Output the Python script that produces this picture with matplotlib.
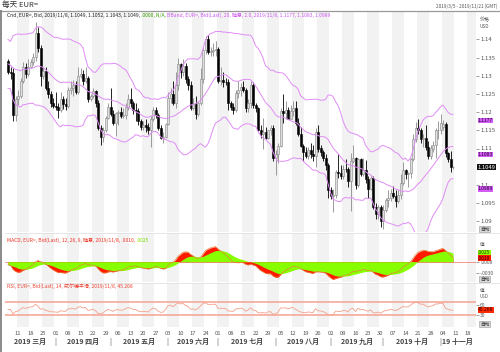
import numpy as np
import pandas as pd
import matplotlib
matplotlib.use('Agg')
import matplotlib.pyplot as plt
from matplotlib import transforms

plt.rcParams['font.family'] = ['Noto Sans CJK SC', 'DejaVu Sans']

# ---------------- data ----------------
# closes before the visible range (2019-01-02 .. 2019-03-04), only used to warm up the indicators
warmup_closes = [1.1345, 1.1395, 1.1395, 1.1475, 1.1440, 1.1545, 1.1500, 1.1470, 1.1470, 1.1410,
                 1.1395, 1.1390, 1.1365, 1.1365, 1.1360, 1.1385, 1.1305, 1.1410, 1.1430, 1.1430,
                 1.1480, 1.1450, 1.1455, 1.1435, 1.1405, 1.1375, 1.1340, 1.1325, 1.1275, 1.1325,
                 1.1260, 1.1295, 1.1295, 1.1310, 1.1340, 1.1340, 1.1335, 1.1330, 1.1360, 1.1390,
                 1.1370, 1.1370, 1.1365, 1.1340]

# daily bars 2019-03-05 .. 2019-11-08
opens = [
    # Mar
    1.1340, 1.1310, 1.1308, 1.1192, 1.1235, 1.1245, 1.1285, 1.1325, 1.1305, 1.1325, 1.1338, 1.1352, 1.1418, 1.1375, 1.1298, 1.1312, 1.1265, 1.1250, 1.1225,
    # Apr
    1.1218, 1.1215, 1.1205, 1.1235, 1.1222, 1.1217, 1.1262, 1.1265, 1.1275, 1.1255, 1.1300, 1.1305, 1.1285, 1.1295, 1.1235, 1.1245, 1.1258, 1.1225, 1.1155, 1.1132, 1.1150, 1.1185,
    # May
    1.1215, 1.1195, 1.1170, 1.1198, 1.1200, 1.1190, 1.1192, 1.1215, 1.1235, 1.1225, 1.1205, 1.1203, 1.1175, 1.1158, 1.1165, 1.1160, 1.1152, 1.1180, 1.1205, 1.1192, 1.1155, 1.1130, 1.1132,
    # Jun
    1.1168, 1.1240, 1.1250, 1.1225, 1.1275, 1.1333, 1.1310, 1.1327, 1.1290, 1.1275, 1.1210, 1.1222, 1.1195, 1.1225, 1.1290, 1.1370, 1.1400, 1.1365, 1.1368, 1.1370,
    # Jul
    1.1372, 1.1285, 1.1288, 1.1283, 1.1282, 1.1225, 1.1215, 1.1207, 1.1252, 1.1260, 1.1270, 1.1260, 1.1210, 1.1225, 1.1275, 1.1220, 1.1210, 1.1150, 1.1140, 1.1145, 1.1130, 1.1150, 1.1155,
    # Aug
    1.1075, 1.1085, 1.1108, 1.1202, 1.1198, 1.1205, 1.1182, 1.1202, 1.1212, 1.1170, 1.1140, 1.1108, 1.1090, 1.1080, 1.1095, 1.1085, 1.1080, 1.1145, 1.1100, 1.1090, 1.1075, 1.1055,
    # Sep
    1.0985, 1.0970, 1.0972, 1.1035, 1.1032, 1.1025, 1.1045, 1.1043, 1.1010, 1.1065, 1.1075, 1.1000, 1.1070, 1.1030, 1.1040, 1.1015, 1.0990, 1.1020, 1.0940, 1.0920, 1.0940,
    # Oct
    1.0900, 1.0932, 1.0958, 1.0965, 1.0978, 1.0970, 1.0955, 1.0972, 1.1005, 1.1040, 1.1030, 1.1032, 1.1070, 1.1125, 1.1155, 1.1150, 1.1125, 1.1130, 1.1105, 1.1080, 1.1100, 1.1110, 1.1150,
    # Nov
    1.1152, 1.1160, 1.1168, 1.1088, 1.1070, 1.1049,
]
highs = [
    1.1345, 1.1325, 1.1320, 1.1245, 1.1260, 1.1295, 1.1338, 1.1335, 1.1345, 1.1345, 1.1362, 1.1448, 1.1435, 1.1385, 1.1325, 1.1325, 1.1285, 1.1258, 1.1238,
    1.1255, 1.1225, 1.1255, 1.1245, 1.1240, 1.1268, 1.1285, 1.1288, 1.1285, 1.1324, 1.1320, 1.1315, 1.1325, 1.1300, 1.1250, 1.1265, 1.1262, 1.1232, 1.1165, 1.1160, 1.1190, 1.1225,
    1.1265, 1.1205, 1.1200, 1.1205, 1.1215, 1.1212, 1.1225, 1.1250, 1.1265, 1.1230, 1.1225, 1.1210, 1.1180, 1.1175, 1.1180, 1.1170, 1.1190, 1.1215, 1.1215, 1.1198, 1.1165, 1.1145, 1.1170,
    1.1255, 1.1265, 1.1285, 1.1310, 1.1348, 1.1335, 1.1345, 1.1335, 1.1300, 1.1285, 1.1240, 1.1245, 1.1230, 1.1320, 1.1380, 1.1410, 1.1412, 1.1380, 1.1390, 1.1395,
    1.1378, 1.1325, 1.1310, 1.1295, 1.1290, 1.1230, 1.1225, 1.1260, 1.1285, 1.1280, 1.1285, 1.1265, 1.1235, 1.1285, 1.1282, 1.1225, 1.1215, 1.1165, 1.1185, 1.1160, 1.1150, 1.1165, 1.1165,
    1.1095, 1.1115, 1.1210, 1.1250, 1.1230, 1.1215, 1.1220, 1.1230, 1.1230, 1.1185, 1.1158, 1.1113, 1.1105, 1.1105, 1.1115, 1.1110, 1.1155, 1.1165, 1.1110, 1.1095, 1.1085, 1.1060,
    1.0995, 1.0990, 1.1040, 1.1085, 1.1055, 1.1055, 1.1070, 1.1050, 1.1087, 1.1109, 1.1078, 1.1075, 1.1075, 1.1075, 1.1068, 1.1025, 1.1025, 1.1025, 1.0950, 1.0945, 1.0945,
    1.0945, 1.0965, 1.0985, 1.0990, 1.0998, 1.0985, 1.0985, 1.1030, 1.1063, 1.1045, 1.1035, 1.1075, 1.1140, 1.1172, 1.1180, 1.1155, 1.1140, 1.1165, 1.1120, 1.1110, 1.1120, 1.1155, 1.1175,
    1.1195, 1.1178, 1.1172, 1.1090, 1.1092, 1.1052,
]
lows = [
    1.1305, 1.1292, 1.1176, 1.1175, 1.1220, 1.1240, 1.1280, 1.1295, 1.1300, 1.1320, 1.1330, 1.1340, 1.1365, 1.1272, 1.1290, 1.1260, 1.1240, 1.1215, 1.1212,
    1.1205, 1.1184, 1.1200, 1.1208, 1.1205, 1.1210, 1.1250, 1.1245, 1.1250, 1.1250, 1.1295, 1.1275, 1.1280, 1.1228, 1.1230, 1.1240, 1.1215, 1.1150, 1.1110, 1.1118, 1.1145, 1.1180,
    1.1190, 1.1165, 1.1135, 1.1165, 1.1185, 1.1185, 1.1180, 1.1205, 1.1215, 1.1195, 1.1175, 1.1165, 1.1152, 1.1152, 1.1145, 1.1140, 1.1105, 1.1175, 1.1185, 1.1150, 1.1125, 1.1115, 1.1130,
    1.1165, 1.1225, 1.1220, 1.1210, 1.1260, 1.1295, 1.1300, 1.1280, 1.1262, 1.1205, 1.1205, 1.1180, 1.1190, 1.1220, 1.1280, 1.1360, 1.1360, 1.1355, 1.1355, 1.1355,
    1.1280, 1.1275, 1.1270, 1.1275, 1.1207, 1.1205, 1.1195, 1.1200, 1.1240, 1.1245, 1.1255, 1.1200, 1.1200, 1.1210, 1.1210, 1.1200, 1.1148, 1.1128, 1.1100, 1.1125, 1.1125, 1.1138, 1.1065,
    1.1027, 1.1060, 1.1105, 1.1170, 1.1180, 1.1180, 1.1180, 1.1190, 1.1165, 1.1135, 1.1105, 1.1065, 1.1075, 1.1070, 1.1075, 1.1065, 1.1050, 1.1090, 1.1080, 1.1065, 1.1040, 1.0965,
    1.0960, 1.0926, 1.0965, 1.1020, 1.1015, 1.1015, 1.1035, 1.0995, 1.0927, 1.1060, 1.0990, 1.0995, 1.1025, 1.1025, 1.1005, 1.0965, 1.0985, 1.0935, 1.0905, 1.0905, 1.0885,
    1.0879, 1.0925, 1.0940, 1.0955, 1.0965, 1.0940, 1.0950, 1.0960, 1.1000, 1.1015, 1.0995, 1.1020, 1.1065, 1.1118, 1.1140, 1.1115, 1.1105, 1.1095, 1.1072, 1.1070, 1.1090, 1.1075, 1.1125,
    1.1140, 1.1150, 1.1078, 1.1062, 1.1036, 1.1043,
]
closes = [
    1.1310, 1.1308, 1.1192, 1.1235, 1.1245, 1.1285, 1.1325, 1.1305, 1.1325, 1.1338, 1.1352, 1.1418, 1.1375, 1.1298, 1.1312, 1.1265, 1.1250, 1.1225, 1.1218,
    1.1215, 1.1205, 1.1235, 1.1222, 1.1217, 1.1262, 1.1265, 1.1275, 1.1255, 1.1300, 1.1305, 1.1285, 1.1295, 1.1235, 1.1245, 1.1258, 1.1225, 1.1155, 1.1132, 1.1150, 1.1185, 1.1215,
    1.1195, 1.1170, 1.1198, 1.1200, 1.1190, 1.1192, 1.1215, 1.1235, 1.1225, 1.1205, 1.1203, 1.1175, 1.1158, 1.1165, 1.1160, 1.1152, 1.1180, 1.1205, 1.1192, 1.1155, 1.1130, 1.1132, 1.1168,
    1.1240, 1.1250, 1.1225, 1.1275, 1.1333, 1.1310, 1.1327, 1.1290, 1.1275, 1.1210, 1.1222, 1.1195, 1.1225, 1.1290, 1.1370, 1.1400, 1.1365, 1.1368, 1.1370, 1.1372,
    1.1285, 1.1288, 1.1283, 1.1282, 1.1225, 1.1215, 1.1207, 1.1252, 1.1260, 1.1270, 1.1260, 1.1210, 1.1225, 1.1275, 1.1220, 1.1210, 1.1150, 1.1140, 1.1145, 1.1130, 1.1150, 1.1155, 1.1075,
    1.1085, 1.1108, 1.1202, 1.1198, 1.1205, 1.1182, 1.1202, 1.1212, 1.1170, 1.1140, 1.1108, 1.1090, 1.1080, 1.1095, 1.1085, 1.1080, 1.1145, 1.1100, 1.1090, 1.1075, 1.1055, 1.0985,
    1.0970, 1.0972, 1.1035, 1.1032, 1.1025, 1.1045, 1.1043, 1.1010, 1.1065, 1.1075, 1.1000, 1.1070, 1.1030, 1.1040, 1.1015, 1.0990, 1.1020, 1.0940, 1.0920, 1.0940, 1.0900,
    1.0932, 1.0958, 1.0965, 1.0978, 1.0970, 1.0955, 1.0972, 1.1005, 1.1040, 1.1030, 1.1032, 1.1070, 1.1125, 1.1155, 1.1150, 1.1125, 1.1130, 1.1105, 1.1080, 1.1100, 1.1110, 1.1150, 1.1152,
    1.1170, 1.1168, 1.1088, 1.1070, 1.1050, 1.1049,
]
price_ticks = [1.09, 1.095, 1.10, 1.11, 1.115, 1.12, 1.125, 1.13, 1.135, 1.14]
band_values = [1.1177, 1.1083, 1.0989]   # upper / middle / lower band values shown in the labels
band_labels = ['1.1177', '1.1083', '1.0989']
last_label = '1.1049'
macd_last, signal_last = 0.0010, 0.0025
macd_ticks = [0.0, -0.0030]
rsi_last = 45.268
rsi_levels = [70, 30]
rsi_ticks = [30, 60]
month_names = ['三月', '四月', '五月', '六月', '七月', '八月', '九月', '十月']
last_month_name = '19 十一月'

assert len(opens) == len(highs) == len(lows) == len(closes) == 179

# ---------------- indicators ----------------
O = np.array(opens); Hh = np.array(highs); L = np.array(lows); C = np.array(closes)
n = len(C)
s = pd.Series(warmup_closes + closes)
mid = s.rolling(20).mean()
sd = s.rolling(20).std(ddof=0)
upper = (mid + 2 * sd).values[-n:]
lower = (mid - 2 * sd).values[-n:]
mid = mid.values[-n:]
ema12 = s.ewm(span=12, adjust=False).mean()
ema26 = s.ewm(span=26, adjust=False).mean()
macd = ema12 - ema26
signal = macd.ewm(span=9, adjust=False).mean()
macd = macd.values[-n:]; signal = signal.values[-n:]
d = s.diff()
ag = d.clip(lower=0).ewm(alpha=1/14, adjust=False).mean()
al = (-d.clip(upper=0)).ewm(alpha=1/14, adjust=False).mean()
rsi = (100 - 100 / (1 + ag / al)).values[-n:]

# ---------------- layout ----------------
W, Hpx = 500, 352
fig = plt.figure(figsize=(5, 3.52), dpi=100)
fig.patch.set_facecolor('white')

def rect(x0, y0, x1, y1):
    return [x0 / W, 1 - y1 / Hpx, (x1 - x0) / W, (y1 - y0) / Hpx]

PX0, PX1 = 5, 476
XL = (PX0 - 8) / 2.5
XR = (PX1 - 8) / 2.5

ax = fig.add_axes(rect(PX0, 11, PX1, 232))
axm = fig.add_axes(rect(PX0, 233, PX1, 282))
axr = fig.add_axes(rect(PX0, 283, PX1, 327))

all_days = pd.bdate_range('2019-03-04', '2019-11-29')
day_idx = np.arange(len(all_days)) - 1
mondays = [(i, dd) for i, dd in zip(day_idx, all_days) if dd.weekday() == 0]

for a in (ax, axm, axr):
    a.set_xlim(XL, XR)
    for sp in a.spines.values():
        sp.set_visible(False)
    a.set_facecolor('white')
    for k, (i, dd) in enumerate(mondays[:-1]):
        if k % 2 == 1:
            a.axvspan(i - 0.5, mondays[k + 1][0] - 0.5, color='#f2f2f2', lw=0, zorder=0)

# ---------------- main candles ----------------
x = np.arange(n)
up = C >= O
ax.vlines(x, L, Hh, colors=np.where(up, '#8a8a8a', '#000000'), lw=0.6, zorder=2)
body_h = np.maximum(np.abs(C - O), 0.00006)
ax.bar(x, body_h, bottom=np.minimum(O, C), width=0.8,
       color=np.where(up, '#dedede', '#000000'), edgecolor=np.where(up, '#858585', '#000000'),
       lw=0.4, zorder=3)
for b in (upper, mid, lower):
    ax.plot(x, b, color='#e08cf5', lw=0.7, zorder=4)

ylo = 1.14 - (232 - 39.3) / 3640
yhi = 1.14 + (39.3 - 11) / 3640
ax.set_ylim(ylo, yhi)
ax.yaxis.tick_right()
ax.set_yticks(price_ticks)
ax.set_yticklabels(['%g' % v for v in price_ticks])
ax.tick_params(axis='y', length=2, width=0.5, color='#777', labelsize=4.3, labelcolor='#555', pad=1)
ax.set_xticks([])

# ---------------- MACD ----------------
mlo = -(282 - 261.7) / 3667
mhi = (261.7 - 233) / 3667
axm.set_ylim(mlo, mhi)
axm.fill_between(x, 0, macd, color='#ff1a00', lw=0, zorder=2)
axm.fill_between(x, 0, signal, color='#88ff00', lw=0, zorder=3)
axm.plot(x, macd, color='#e8823c', lw=0.5, zorder=4)
axm.axhline(0, color='#f08878', lw=0.6, zorder=1)
axm.yaxis.tick_right()
axm.set_yticks(macd_ticks)
axm.set_yticklabels(['.0000', '-.0030'])
axm.tick_params(axis='y', length=2, width=0.5, color='#777', labelsize=3.6, labelcolor='#555', pad=1)
axm.set_xticks([])

# ---------------- RSI ----------------
axr.set_ylim(30 - (327 - 315) * 3, 70 + (301.7 - 283) * 3)
for lv in rsi_levels:
    axr.axhline(lv, color='#f6a292', lw=1.1, zorder=2)
axr.plot(x, rsi, color='#f4a08a', lw=0.6, zorder=3)
axr.yaxis.tick_right()
axr.set_yticks(rsi_ticks)
axr.set_yticklabels([str(v) for v in rsi_ticks])
axr.tick_params(axis='y', length=2, width=0.5, color='#777', labelsize=3.6, labelcolor='#555', pad=1)

tick_pos = [i for i, dd in mondays if 4 <= i <= 184]
tick_lab = [dd.strftime('%d') for i, dd in mondays if 4 <= i <= 184]
axr.set_xticks(tick_pos)
axr.set_xticklabels(tick_lab)
axr.tick_params(axis='x', length=0, labelsize=4.2, labelcolor='#555', pad=3)

# month labels & separators
bt = transforms.blended_transform_factory(axr.transData, fig.transFigure)
month_starts = []
prev = None
for i, dd in zip(day_idx, all_days):
    if i < 0:
        prev = dd.month
        continue
    if dd.month != prev:
        month_starts.append(i)
        prev = dd.month
month_starts = [m for m in month_starts if m <= n]
bounds = [XL] + month_starts
ym = 1 - 341.5 / Hpx
for k, name in enumerate(month_names):
    cx = (bounds[k] + bounds[k + 1]) / 2
    fig.text(cx, ym, '2019 ' + name, transform=bt, ha='center', va='center',
             fontsize=5, fontweight='bold', color='#444')
fig.text(month_starts[-1] + 0.6, ym, last_month_name, transform=bt, ha='left', va='center',
         fontsize=5, fontweight='bold', color='#444')
for m in month_starts:
    fig.text(m - 0.3, ym, '|', transform=bt, ha='center', va='center', fontsize=5, color='#555')

# ---------------- right-side boxes ----------------
def box(a, yv, txt, fc, tc, size=3.6, pad=0.05):
    tr = transforms.blended_transform_factory(a.transAxes, a.transData)
    a.text(1.004, yv, txt, transform=tr, ha='left', va='center', fontsize=size, color=tc,
           clip_on=False, zorder=10,
           bbox=dict(boxstyle='square,pad=%g' % pad, fc=fc, ec='none'))

for v, lab in zip(band_values, band_labels):
    box(ax, v, lab, '#d25cf5', '#2a0033')
box(ax, C[-1], last_label, '#111111', '#ffffff', 4.2, 0.1)
box(axm, signal_last, '.0025', '#88ff00', '#224400')
box(axm, macd_last, '.0010', '#ff1a00', '#330000')
box(axr, rsi_last, '45.268', '#ff2a00', '#330000')

def small(xp, yp, txt, size=3.6, color='#555', ha='left', **kw):
    return fig.text(xp / W, 1 - yp / Hpx, txt, fontsize=size, color=color, ha=ha, va='center', **kw)

def auto_box(yp):
    small(480, yp, '自动', 3.4, '#333', bbox=dict(boxstyle='square,pad=0.2', fc='#d9d9d9', ec='#9a9a9a', lw=0.4))

small(480, 20, '价格', 3.6)
small(480, 26, 'USD', 3.4)
auto_box(229)
small(480, 245, '值', 3.4)
auto_box(279)
small(480, 290, '值', 3.4)
small(480, 296.5, 'USD', 3.2)
auto_box(324)

# ---------------- headers ----------------
renderer = fig.canvas.get_renderer()

def seg_text(xp, yp, segs, size):
    xx = xp
    for txt, col in segs:
        t = fig.text(xx / W, 1 - yp / Hpx, txt, fontsize=size, color=col, ha='left', va='center')
        xx += t.get_window_extent(renderer=renderer).width

small(2, 4.8, '每天 EUR=', 5.5, '#333')
small(498, 6, '2019/3/5 - 2019/11/21 (GMT)', 3.4, '#555', ha='right')
seg_text(7, 15.5, [('Cnd, EUR=, Bid, 2019/11/8, 1.1049, 1.1052, 1.1043, 1.1049, ', '#222'),
                   ('.0000, N/A, ', '#3a9a00'),
                   ('BBand, EUR=, Bid(Last), 20, 随意, 2.0, 2019/11/8, 1.1177, 1.1083, 1.0989', '#cc55ee')], 3.6)
seg_text(7, 240, [('MACD, EUR=, Bid(Last), 12, 26, 9, 随意, 2019/11/8, .0010, ', '#ee3322'),
                  ('.0025', '#77dd00')], 3.6)
seg_text(7, 286, [('RSI, EUR=, Bid(Last), 14, 威尔德平滑, 2019/11/8, 45.268', '#ee4433')], 3.6)

# frame lines
fig.add_artist(plt.Line2D([0, 1], [1 - 11 / Hpx] * 2, transform=fig.transFigure, color='#9a9a9a', lw=0.9))
fig.add_artist(plt.Line2D([1.2 / W] * 2, [0, 1 - 11 / Hpx], transform=fig.transFigure, color='#8a8a8a', lw=1.4))
for yp in (232.5, 282.5):
    fig.add_artist(plt.Line2D([PX0 / W, 1], [1 - yp / Hpx] * 2, transform=fig.transFigure, color='#dcdcdc', lw=0.5))

fig.savefig('out.png', dpi=100)
